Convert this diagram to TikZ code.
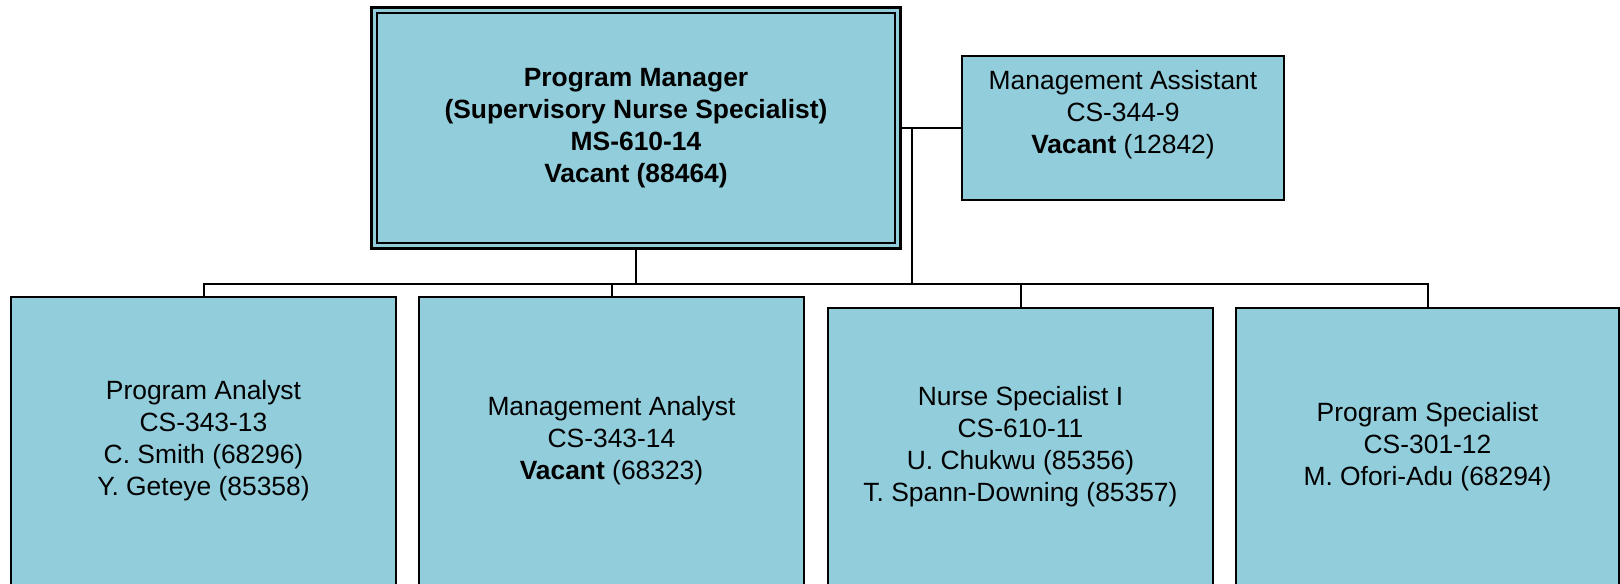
\documentclass[tikz,border=0pt]{standalone}
\usepackage{fontspec}
\setmainfont{Liberation Sans}
\usepackage{xcolor}
\usetikzlibrary{positioning,calc}
\definecolor{boxblue}{HTML}{92CDDC}
\definecolor{ink}{HTML}{000000}

\begin{document}
\begin{tikzpicture}[x=0.5bp, y=-0.5bp,
  chief/.style={draw=ink, line width=1.5bp, fill=boxblue, inner sep=0pt, outer sep=0pt,
    minimum width=264bp, minimum height=120bp, align=center,
    font=\fontsize{13.2bp}{16bp}\selectfont\bfseries},
  staff/.style={draw=ink, line width=1bp, fill=boxblue, inner sep=0pt, outer sep=0pt,
    minimum width=161bp, minimum height=71.5bp, align=center,
    font=\fontsize{13.2bp}{16bp}\selectfont},
  post/.style={draw=ink, line width=1bp, fill=boxblue, inner sep=0pt, outer sep=0pt,
    minimum width=192.5bp, minimum height=144bp, align=center, anchor=north west,
    font=\fontsize{13.2bp}{16bp}\selectfont},
  link/.style={draw=ink, line width=1bp}
]
\useasboundingbox (0,0) rectangle (1620,584);
\clip (0,0) rectangle (1620,584);

\node[chief] (pm) at (636,128) {Program Manager\\(Supervisory Nurse Specialist)\\MS-610-14\\Vacant (88464)};
\draw[ink, line width=0.75bp] ([shift={(2.5bp,2.5bp)}]pm.south west) rectangle ([shift={(-2.5bp,-2.5bp)}]pm.north east);
\node[staff] (asst) at (1123,128) {Management Assistant\\CS-344-9\\\textbf{Vacant} (12842)\\~};

\node[post] (pa) at (11,297) {Program Analyst\\CS-343-13\\C. Smith (68296)\\Y. Geteye (85358)};
\node[post] (ma) at (419,297) {Management Analyst\\CS-343-14\\\textbf{Vacant} (68323)};
\node[post, minimum height=138.5bp] (ns) at (828,308) {Nurse Specialist I\\CS-610-11\\U. Chukwu (85356)\\T. Spann-Downing (85357)};
\node[post, minimum height=138.5bp, minimum width=191.5bp] (ps) at (1236,308) {Program Specialist\\CS-301-12\\M. Ofori-Adu (68294)};

\coordinate (bus) at (0,284);
\coordinate (tap) at ([xshift=6bp]pm.east);
\draw[link] (pm.east) -- (asst.west);
\draw[link] (tap) -- (tap |- bus);
\draw[link] (pm.south) -- (pm.south |- bus);
\draw[link] (pa.north) -- (pa.north |- bus) -- (ps.north |- bus) -- (ps.north);
\draw[link] (ma.north) -- (ma.north |- bus);
\draw[link] (ns.north) -- (ns.north |- bus);
\end{tikzpicture}
\end{document}
